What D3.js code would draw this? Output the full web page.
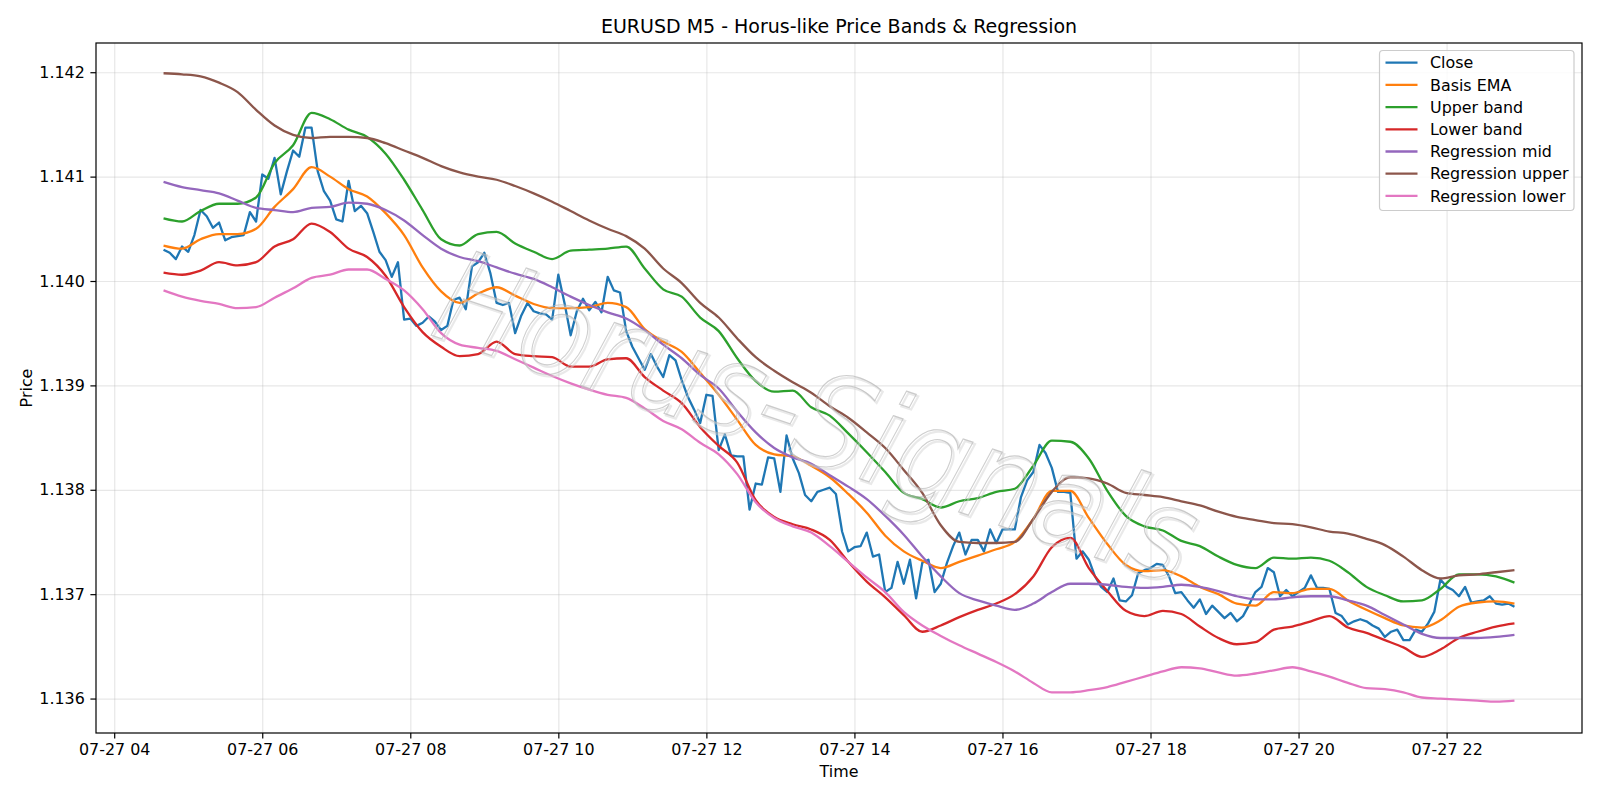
<!DOCTYPE html>
<html>
<head>
<meta charset="utf-8">
<script src="https://cdn.jsdelivr.net/npm/d3@7"></script>
<style>
  body { margin: 0; background: #ffffff; }
  svg { display: block; }
  text { font-family: "DejaVu Sans", "Liberation Sans", sans-serif; }
</style>
</head>
<body>
<svg id="chart" width="1600" height="800"></svg>
<script>
// ---------------- DATA ----------------
const chartTitle = "EURUSD M5 - Horus-like Price Bands & Regression";
const xLabel = "Time";
const yLabel = "Price";
const watermark = "Horus-Signals";

const closeStart = "2025-07-27 04:40";
const barMinutes = 5;
// Close, one value per M5 bar from 04:40 to 22:55
const closeValues = [
  1.14030,1.14027,1.14021,1.14033,1.14028,1.14044,1.14068,1.14062,1.14051,1.14056,
  1.14039,1.14042,1.14043,1.14044,1.14066,1.14057,1.14102,1.14098,1.14118,1.14083,
  1.14105,1.14125,1.14119,1.14147,1.14147,1.14105,1.14086,1.14077,1.14059,1.14057,
  1.14096,1.14067,1.14072,1.14065,1.14047,1.14028,1.14020,1.14004,1.14018,1.13963,
  1.13964,1.13957,1.13960,1.13966,1.13961,1.13953,1.13957,1.13982,1.13984,1.13973,
  1.14014,1.14018,1.14027,1.14007,1.13979,1.13977,1.13979,1.13950,1.13967,1.13979,
  1.13971,1.13969,1.13968,1.13963,1.14006,1.13979,1.13948,1.13971,1.13983,1.13972,
  1.13980,1.13970,1.14004,1.13991,1.13989,1.13952,1.13937,1.13926,1.13915,1.13930,
  1.13918,1.13908,1.13929,1.13924,1.13905,1.13889,1.13877,1.13864,1.13891,1.13890,
  1.13838,1.13853,1.13833,1.13832,1.13832,1.13781,1.13806,1.13805,1.13831,1.13830,
  1.13798,1.13852,1.13830,1.13816,1.13795,1.13789,1.13798,1.13800,1.13802,1.13796,
  1.13760,1.13741,1.13745,1.13746,1.13759,1.13736,1.13738,1.13702,1.13706,1.13731,
  1.13710,1.13733,1.13696,1.13730,1.13733,1.13702,1.13710,1.13730,1.13746,1.13759,
  1.13738,1.13752,1.13752,1.13741,1.13762,1.13749,1.13762,1.13762,1.13762,1.13793,
  1.13809,1.13817,1.13843,1.13835,1.13821,1.13798,1.13798,1.13797,1.13734,1.13741,
  1.13733,1.13717,1.13707,1.13702,1.13715,1.13694,1.13693,1.13699,1.13720,1.13723,
  1.13725,1.13729,1.13728,1.13717,1.13701,1.13702,1.13694,1.13687,1.13695,1.13681,
  1.13689,1.13683,1.13677,1.13682,1.13674,1.13679,1.13690,1.13702,1.13707,1.13725,
  1.13721,1.13698,1.13704,1.13698,1.13702,1.13706,1.13718,1.13706,1.13706,1.13705,
  1.13682,1.13679,1.13671,1.13674,1.13676,1.13674,1.13670,1.13667,1.13659,1.13664,
  1.13666,1.13656,1.13656,1.13666,1.13664,1.13672,1.13683,1.13714,1.13707,1.13704,
  1.13698,1.13707,1.13692,1.13693,1.13694,1.13698,1.13691,1.13690,1.13691,1.13688
];

// Smooth series, read every 15 minutes
const sampleTimes = [
  "04:40","04:55","05:10","05:25","05:40","05:55","06:10","06:25","06:40","06:55",
  "07:10","07:25","07:40","07:55","08:10","08:25","08:40","08:55","09:10","09:25",
  "09:40","09:55","10:10","10:25","10:40","10:55","11:10","11:25","11:40","11:55",
  "12:10","12:25","12:40","12:55","13:10","13:25","13:40","13:55","14:10","14:25",
  "14:40","14:55","15:10","15:25","15:40","15:55","16:10","16:25","16:40","16:55",
  "17:10","17:25","17:40","17:55","18:10","18:25","18:40","18:55","19:10","19:25",
  "19:40","19:55","20:10","20:25","20:40","20:55","21:10","21:25","21:40","21:55",
  "22:10","22:25","22:40","22:55"
];
const basisEMA = [
  1.14034,1.14031,1.14040,1.14045,1.14045,1.14050,1.14071,1.14088,1.14109,1.14100,
  1.14088,1.14081,1.14065,1.14044,1.14013,1.13990,1.13979,1.13988,1.13994,1.13986,
  1.13978,1.13974,1.13974,1.13975,1.13979,1.13975,1.13954,1.13942,1.13932,1.13912,
  1.13891,1.13867,1.13843,1.13834,1.13832,1.13823,1.13812,1.13796,1.13778,1.13756,
  1.13741,1.13732,1.13725,1.13731,1.13737,1.13743,1.13750,1.13772,1.13799,1.13799,
  1.13773,1.13748,1.13728,1.13722,1.13723,1.13717,1.13707,1.13700,1.13691,1.13689,
  1.13702,1.13701,1.13705,1.13705,1.13694,1.13685,1.13677,1.13670,1.13668,1.13675,
  1.13688,1.13692,1.13693,1.13691
];
const upperBand = [
  1.14060,1.14057,1.14067,1.14074,1.14074,1.14080,1.14113,1.14130,1.14161,1.14155,
  1.14145,1.14138,1.14122,1.14097,1.14068,1.14040,1.14034,1.14045,1.14047,1.14036,
  1.14028,1.14021,1.14029,1.14030,1.14031,1.14033,1.14012,1.13992,1.13985,1.13965,
  1.13952,1.13926,1.13904,1.13894,1.13895,1.13879,1.13871,1.13854,1.13836,1.13817,
  1.13797,1.13791,1.13783,1.13789,1.13792,1.13798,1.13801,1.13823,1.13847,1.13846,
  1.13830,1.13799,1.13775,1.13765,1.13761,1.13751,1.13746,1.13736,1.13728,1.13725,
  1.13735,1.13734,1.13735,1.13732,1.13721,1.13707,1.13699,1.13693,1.13694,1.13705,
  1.13719,1.13719,1.13717,1.13711
];
const lowerBand = [
  1.14008,1.14006,1.14010,1.14018,1.14015,1.14018,1.14033,1.14040,1.14055,1.14047,
  1.14031,1.14023,1.14005,1.13975,1.13951,1.13937,1.13928,1.13930,1.13942,1.13930,
  1.13928,1.13927,1.13918,1.13918,1.13925,1.13926,1.13908,1.13895,1.13883,1.13860,
  1.13842,1.13826,1.13790,1.13774,1.13767,1.13762,1.13752,1.13731,1.13712,1.13697,
  1.13680,1.13664,1.13670,1.13678,1.13685,1.13691,1.13700,1.13717,1.13745,1.13754,
  1.13725,1.13703,1.13684,1.13679,1.13684,1.13681,1.13669,1.13658,1.13652,1.13654,
  1.13666,1.13669,1.13674,1.13679,1.13668,1.13663,1.13656,1.13649,1.13640,1.13647,
  1.13658,1.13664,1.13669,1.13672
];
const regressionMid = [
  1.14095,1.14090,1.14087,1.14084,1.14077,1.14070,1.14068,1.14066,1.14070,1.14071,
  1.14075,1.14074,1.14068,1.14058,1.14044,1.14031,1.14023,1.14019,1.14013,1.14007,
  1.14002,1.13994,1.13985,1.13977,1.13970,1.13964,1.13953,1.13939,1.13926,1.13910,
  1.13897,1.13875,1.13855,1.13840,1.13831,1.13825,1.13814,1.13803,1.13791,1.13775,
  1.13757,1.13736,1.13717,1.13701,1.13694,1.13689,1.13685,1.13691,1.13702,1.13710,
  1.13710,1.13709,1.13707,1.13706,1.13707,1.13709,1.13707,1.13703,1.13698,1.13695,
  1.13695,1.13697,1.13698,1.13698,1.13694,1.13689,1.13680,1.13671,1.13662,1.13658,
  1.13658,1.13658,1.13659,1.13661
];
const regressionUpper = [
  1.14199,1.14198,1.14196,1.14190,1.14181,1.14164,1.14149,1.14140,1.14137,1.14138,
  1.14138,1.14137,1.14132,1.14125,1.14118,1.14110,1.14104,1.14100,1.14097,1.14091,
  1.14084,1.14076,1.14067,1.14058,1.14050,1.14043,1.14031,1.14012,1.13998,1.13979,
  1.13965,1.13945,1.13927,1.13914,1.13903,1.13893,1.13880,1.13869,1.13855,1.13840,
  1.13819,1.13797,1.13766,1.13750,1.13749,1.13749,1.13750,1.13772,1.13798,1.13812,
  1.13811,1.13806,1.13797,1.13795,1.13793,1.13789,1.13785,1.13779,1.13774,1.13771,
  1.13768,1.13767,1.13764,1.13760,1.13758,1.13753,1.13747,1.13736,1.13723,1.13715,
  1.13718,1.13719,1.13721,1.13723
];
const regressionLower = [
  1.13991,1.13985,1.13981,1.13978,1.13974,1.13975,1.13984,1.13993,1.14003,1.14006,
  1.14011,1.14011,1.14002,1.13991,1.13973,1.13950,1.13939,1.13936,1.13933,1.13925,
  1.13917,1.13909,1.13902,1.13896,1.13891,1.13888,1.13878,1.13866,1.13858,1.13845,
  1.13834,1.13815,1.13788,1.13773,1.13765,1.13759,1.13746,1.13731,1.13716,1.13702,
  1.13683,1.13670,1.13660,1.13651,1.13643,1.13635,1.13626,1.13615,1.13606,1.13606,
  1.13608,1.13611,1.13616,1.13621,1.13626,1.13630,1.13629,1.13625,1.13622,1.13624,
  1.13627,1.13630,1.13626,1.13621,1.13615,1.13610,1.13609,1.13606,1.13601,1.13600,
  1.13599,1.13598,1.13597,1.13598
];

const seriesNames = ["Close","Basis EMA","Upper band","Lower band","Regression mid","Regression upper","Regression lower"];
const seriesColors = ["#1f77b4","#ff7f0e","#2ca02c","#d62728","#9467bd","#8c564b","#e377c2"];

const xTickTimes = ["04:00","06:00","08:00","10:00","12:00","14:00","16:00","18:00","20:00","22:00"];
const yTickValues = [1.136,1.137,1.138,1.139,1.140,1.141,1.142];
const xLimits = ["03:45:15","23:49:45"];
const yLimits = [1.13567, 1.14228];

// ---------------- DRAW ----------------
const day = "2025-07-27 ";
const parseHM = d3.timeParse("%Y-%m-%d %H:%M");
const parseHMS = d3.timeParse("%Y-%m-%d %H:%M:%S");
const t0 = parseHM(closeStart);

const closeData = closeValues.map((v, i) => ({ t: d3.timeMinute.offset(t0, i * barMinutes), v }));
const sTimes = sampleTimes.map(s => parseHM(day + s));
const mk = arr => arr.map((v, i) => ({ t: sTimes[i], v }));
const allSeries = [
  { data: closeData, curve: d3.curveLinear },
  { data: mk(basisEMA), curve: d3.curveMonotoneX },
  { data: mk(upperBand), curve: d3.curveMonotoneX },
  { data: mk(lowerBand), curve: d3.curveMonotoneX },
  { data: mk(regressionMid), curve: d3.curveMonotoneX },
  { data: mk(regressionUpper), curve: d3.curveMonotoneX },
  { data: mk(regressionLower), curve: d3.curveMonotoneX }
];

const W = 1600, H = 800;
const m = { left: 96, right: 1582, top: 43, bottom: 733 };
const FS = 15.9;      // 10pt
const FS_TITLE = 19;  // 12pt
const LW = 2.3;
const svg = d3.select("#chart");
svg.append("rect").attr("width", W).attr("height", H).attr("fill", "#ffffff");

const x = d3.scaleTime().domain(xLimits.map(s => parseHMS(day + s))).range([m.left, m.right]);
const y = d3.scaleLinear().domain(yLimits).range([m.bottom, m.top]);
const xTicks = xTickTimes.map(s => parseHM(day + s));

// grid
const grid = svg.append("g");
grid.append("g").attr("transform", `translate(0,${m.bottom})`)
  .call(d3.axisBottom(x).tickValues(xTicks).tickSize(-(m.bottom - m.top)).tickFormat(""))
  .call(g => g.select(".domain").remove())
  .call(g => g.selectAll("line").attr("stroke", "#b0b0b0").attr("stroke-opacity", 0.3).attr("stroke-width", 1.2));
grid.append("g").attr("transform", `translate(${m.left},0)`)
  .call(d3.axisLeft(y).tickValues(yTickValues).tickSize(-(m.right - m.left)).tickFormat(""))
  .call(g => g.select(".domain").remove())
  .call(g => g.selectAll("line").attr("stroke", "#b0b0b0").attr("stroke-opacity", 0.3).attr("stroke-width", 1.2));

svg.append("clipPath").attr("id", "plotclip").append("rect")
  .attr("x", m.left).attr("y", m.top).attr("width", m.right - m.left).attr("height", m.bottom - m.top);

// lines
const lines = svg.append("g").attr("clip-path", "url(#plotclip)");
allSeries.forEach((s, i) => {
  const gen = d3.line().x(d => x(d.t)).y(d => y(d.v)).curve(s.curve);
  lines.append("path")
    .attr("d", gen(s.data))
    .attr("fill", "none")
    .attr("stroke", seriesColors[i])
    .attr("stroke-width", LW)
    .attr("stroke-linejoin", "round")
    .attr("stroke-linecap", "butt");
});

// watermark
const wm = svg.append("g").attr("clip-path", "url(#plotclip)");
const wmAttrs = (sel) => sel
  .attr("text-anchor", "middle")
  .attr("dominant-baseline", "middle")
  .attr("font-size", 112)
  .attr("font-style", "italic")
  .attr("textLength", 790)
  .attr("lengthAdjust", "spacingAndGlyphs")
  .attr("fill", "none")
  .text(watermark);
wm.append("text").call(wmAttrs)
  .attr("transform", "translate(816,428) rotate(18.5) scale(1,1.15)")
  .attr("stroke", "#d4d4d4").attr("stroke-width", 2.0).attr("stroke-opacity", 0.5);
wm.append("text").call(wmAttrs)
  .attr("transform", "translate(814,426) rotate(18.5) scale(1,1.15)")
  .attr("stroke", "#b4b4b4").attr("stroke-width", 1.0).attr("stroke-opacity", 0.65);

// axes
const fmtX = d3.timeFormat("%m-%d %H");
const xAxis = svg.append("g").attr("transform", `translate(0,${m.bottom})`)
  .call(d3.axisBottom(x).tickValues(xTicks).tickFormat(fmtX).tickSize(5.6).tickPadding(5.0));
const yAxis = svg.append("g").attr("transform", `translate(${m.left},0)`)
  .call(d3.axisLeft(y).tickValues(yTickValues).tickFormat(d3.format(".3f")).tickSize(5.6).tickPadding(5.6));
[xAxis, yAxis].forEach(a => {
  a.select(".domain").remove();
  a.selectAll("line").attr("stroke", "#000").attr("stroke-width", 1.2);
  a.selectAll("text").attr("fill", "#000").attr("font-size", FS)
    .attr("font-family", '"DejaVu Sans", sans-serif');
});

// frame
svg.append("rect").attr("x", m.left).attr("y", m.top)
  .attr("width", m.right - m.left).attr("height", m.bottom - m.top)
  .attr("fill", "none").attr("stroke", "#000").attr("stroke-width", 1.2);

// title & labels
svg.append("text").attr("x", (m.left + m.right) / 2).attr("y", 32.5)
  .attr("text-anchor", "middle").attr("font-size", FS_TITLE).attr("fill", "#000").text(chartTitle);
svg.append("text").attr("x", (m.left + m.right) / 2).attr("y", 777)
  .attr("text-anchor", "middle").attr("font-size", FS).attr("fill", "#000").text(xLabel);
svg.append("text").attr("transform", `translate(32,${(m.top + m.bottom) / 2}) rotate(-90)`)
  .attr("text-anchor", "middle").attr("font-size", FS).attr("fill", "#000").text(yLabel);

// legend
const lg = svg.append("g");
lg.append("rect").attr("x", 1379.5).attr("y", 50.5).attr("width", 194.5).attr("height", 160)
  .attr("rx", 3.5).attr("fill", "#ffffff").attr("fill-opacity", 0.8)
  .attr("stroke", "#cccccc").attr("stroke-width", 1.2);
seriesNames.forEach((name, i) => {
  const cy = 62.7 + i * 22.2;
  lg.append("line").attr("x1", 1385.5).attr("x2", 1417.5).attr("y1", cy).attr("y2", cy)
    .attr("stroke", seriesColors[i]).attr("stroke-width", LW);
  lg.append("text").attr("x", 1430).attr("y", cy).attr("dy", "0.36em")
    .attr("font-size", FS).attr("fill", "#000").text(name);
});
</script>
</body>
</html>
